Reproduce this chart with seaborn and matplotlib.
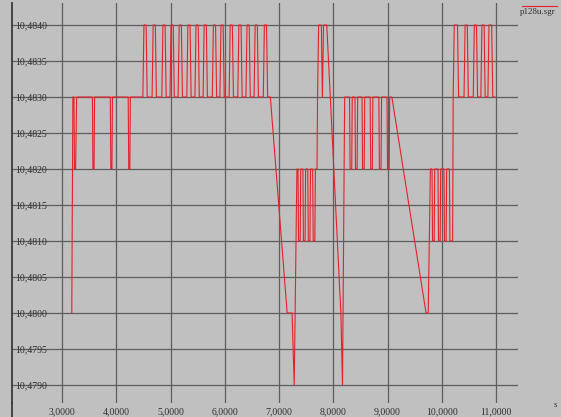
import matplotlib
matplotlib.use("Agg")
import matplotlib.pyplot as plt
from matplotlib.lines import Line2D
import seaborn as sns
import pandas as pd

# ---- data ----
time_s = [
    3.18, 3.20, 3.22, 3.23, 3.25, 3.27,
    3.56, 3.57, 3.59, 3.60,
    3.89, 3.90, 3.92, 3.93,
    4.22, 4.23, 4.25, 4.26,
    4.49, 4.51, 4.55, 4.57,
    4.66, 4.68, 4.72, 4.74,
    4.84, 4.86, 4.90, 4.92,
    4.99, 5.01, 5.05, 5.07,
    5.14, 5.16, 5.20, 5.22,
    5.30, 5.32, 5.36, 5.38,
    5.45, 5.47, 5.51, 5.53,
    5.60, 5.62, 5.66, 5.68,
    5.77, 5.79, 5.83, 5.85,
    5.91, 5.93, 5.97, 5.99,
    6.08, 6.10, 6.14, 6.16,
    6.24, 6.26, 6.30, 6.32,
    6.39, 6.41, 6.45, 6.47,
    6.54, 6.56, 6.60, 6.62,
    6.71, 6.73, 6.77, 6.79,
    6.84,
    7.15, 7.24, 7.28, 7.33,
    7.35, 7.36, 7.39, 7.40,
    7.44, 7.45, 7.48, 7.49,
    7.53, 7.54, 7.57, 7.58,
    7.62, 7.63, 7.66, 7.67,
    7.70, 7.71, 7.73, 7.78, 7.80, 7.82, 7.88,
    8.14, 8.17, 8.21,
    8.30, 8.31, 8.34, 8.35,
    8.40, 8.41, 8.44, 8.45,
    8.53, 8.54, 8.57, 8.58,
    8.68, 8.69, 8.72, 8.73,
    8.84, 8.85, 8.88, 8.89,
    8.99, 9.00, 9.03, 9.04,
    9.08, 9.71, 9.75, 9.79,
    9.82, 9.83, 9.86, 9.87,
    9.93, 9.94, 9.97, 9.98,
    10.04, 10.05, 10.08, 10.09,
    10.14, 10.15, 10.20, 10.21,
    10.23, 10.29, 10.31,
    10.41, 10.43, 10.47, 10.49,
    10.58, 10.60, 10.64, 10.66,
    10.72, 10.74, 10.78, 10.80,
    10.85, 10.87, 10.92, 10.94,
    10.98,
]
value = [
    10.4800, 10.4830, 10.4830, 10.4820, 10.4820, 10.4830,
    10.4830, 10.4820, 10.4820, 10.4830,
    10.4830, 10.4820, 10.4820, 10.4830,
    10.4830, 10.4820, 10.4820, 10.4830,
    10.4830, 10.4840, 10.4840, 10.4830,
    10.4830, 10.4840, 10.4840, 10.4830,
    10.4830, 10.4840, 10.4840, 10.4830,
    10.4830, 10.4840, 10.4840, 10.4830,
    10.4830, 10.4840, 10.4840, 10.4830,
    10.4830, 10.4840, 10.4840, 10.4830,
    10.4830, 10.4840, 10.4840, 10.4830,
    10.4830, 10.4840, 10.4840, 10.4830,
    10.4830, 10.4840, 10.4840, 10.4830,
    10.4830, 10.4840, 10.4840, 10.4830,
    10.4830, 10.4840, 10.4840, 10.4830,
    10.4830, 10.4840, 10.4840, 10.4830,
    10.4830, 10.4840, 10.4840, 10.4830,
    10.4830, 10.4840, 10.4840, 10.4830,
    10.4830, 10.4840, 10.4840, 10.4830,
    10.4830,
    10.4800, 10.4800, 10.4790, 10.4820,
    10.4820, 10.4810, 10.4810, 10.4820,
    10.4820, 10.4810, 10.4810, 10.4820,
    10.4820, 10.4810, 10.4810, 10.4820,
    10.4820, 10.4810, 10.4810, 10.4820,
    10.4820, 10.4830, 10.4840, 10.4840, 10.4830, 10.4840, 10.4840,
    10.4800, 10.4790, 10.4830,
    10.4830, 10.4820, 10.4820, 10.4830,
    10.4830, 10.4820, 10.4820, 10.4830,
    10.4830, 10.4820, 10.4820, 10.4830,
    10.4830, 10.4820, 10.4820, 10.4830,
    10.4830, 10.4820, 10.4820, 10.4830,
    10.4830, 10.4820, 10.4820, 10.4830,
    10.4830, 10.4800, 10.4800, 10.4820,
    10.4820, 10.4810, 10.4810, 10.4820,
    10.4820, 10.4810, 10.4810, 10.4820,
    10.4820, 10.4810, 10.4810, 10.4820,
    10.4820, 10.4810, 10.4810, 10.4830,
    10.4840, 10.4840, 10.4830,
    10.4830, 10.4840, 10.4840, 10.4830,
    10.4830, 10.4840, 10.4840, 10.4830,
    10.4830, 10.4840, 10.4840, 10.4830,
    10.4830, 10.4840, 10.4840, 10.4830,
    10.4830,
]
series_name = "p128u.sgr"
x_ticks = [3, 4, 5, 6, 7, 8, 9, 10, 11]
x_tick_labels = ["3,0000", "4,0000", "5,0000", "6,0000", "7,0000",
                 "8,0000", "9,0000", "10,0000", "11,0000"]
y_ticks = [10.4790, 10.4795, 10.4800, 10.4805, 10.4810, 10.4815,
           10.4820, 10.4825, 10.4830, 10.4835, 10.4840]
y_tick_labels = ["10,4790", "10,4795", "10,4800", "10,4805", "10,4810", "10,4815",
                 "10,4820", "10,4825", "10,4830", "10,4835", "10,4840"]
x_unit = "s"

df = pd.DataFrame({"time": time_s, "value": value})

# ---- figure ----
BG = "#c0c0c0"
W, H = 561, 417
fig = plt.figure(figsize=(W / 100, H / 100), dpi=100, facecolor=BG)
ax = fig.add_axes([12 / W, (H - 403) / H, (518 - 12) / W, (403 - 3) / H])
ax.set_facecolor(BG)

sns.lineplot(data=df, x="time", y="value", sort=False, estimator=None,
             color="#e8202a", linewidth=0.8, ax=ax)

ax.set_xlim(2.078, 11.405)
ax.set_ylim(10.47875, 10.484306)
ax.set_xticks(x_ticks)
ax.set_xticklabels(x_tick_labels)
ax.set_yticks(y_ticks)
ax.set_yticklabels(y_tick_labels)
ax.set_xlabel("")
ax.set_ylabel("")

ax.grid(True, color="#5e5e5e", linewidth=0.9)
ax.set_axisbelow(True)
for s in ["top", "right", "bottom"]:
    ax.spines[s].set_visible(False)
ax.spines["left"].set_color("#3a3a3a")
ax.spines["left"].set_linewidth(1.3)

tick_font = dict(family="Liberation Serif", size=7)
ax.tick_params(axis="y", direction="in", length=0, pad=-2, labelcolor="#303030")
ax.tick_params(axis="x", direction="in", length=0, pad=3, labelcolor="#303030")
for lab in ax.get_yticklabels():
    lab.set_fontfamily("Liberation Serif")
    lab.set_fontsize(7)
    lab.set_horizontalalignment("left")
for lab in ax.get_xticklabels():
    lab.set_fontfamily("Liberation Serif")
    lab.set_fontsize(7)

# left axis line continues to figure bottom
fig.add_artist(Line2D([12 / W, 12 / W], [0, (H - 403) / H], transform=fig.transFigure,
                      color="#3a3a3a", linewidth=1.3))

# legend-like label top right
fig.text(520 / W, 1 - 12 / H, series_name, fontsize=6.5, family="Liberation Serif",
         color="#303030", va="center", ha="left")
fig.add_artist(Line2D([522 / W, 557 / W], [1 - 6 / H, 1 - 6 / H], transform=fig.transFigure,
                      color="#e8202a", linewidth=0.8))

fig.text(555 / W, 1 - 405 / H, x_unit, fontsize=6.5, family="Liberation Serif",
         color="#303030", va="center", ha="center")

fig.savefig("out.png", dpi=100, facecolor=BG)
